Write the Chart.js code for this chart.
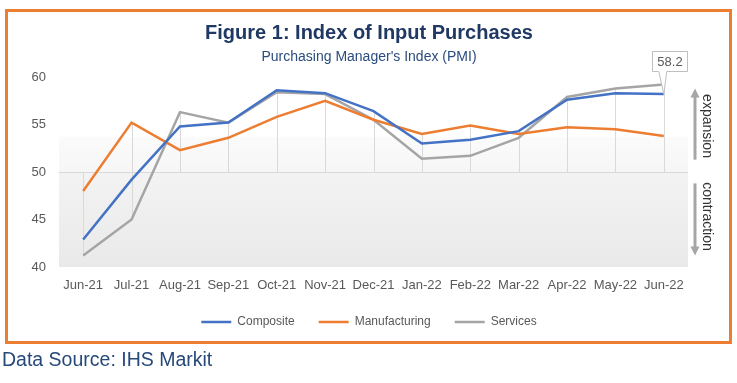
<!DOCTYPE html>
<html>
<head>
<meta charset="utf-8">
<script src="https://cdn.jsdelivr.net/npm/chart.js@4.4.1/dist/chart.umd.min.js"></script>
<style>
html,body{margin:0;padding:0;background:#fff;width:737px;height:383px;overflow:hidden;}
#frame{position:absolute;left:5px;top:9px;width:721px;height:329px;border:3px solid #ed7d31;}
#wrap{position:absolute;left:0;top:0;width:737px;height:383px;}
#src{position:absolute;left:2px;top:348px;font-family:"Liberation Sans",Arial,sans-serif;font-size:19.5px;line-height:22px;color:#27497a;white-space:nowrap;}
</style>
</head>
<body>
<div id="frame"></div>
<div id="wrap"><canvas id="c" width="737" height="383"></canvas></div>
<div id="src">Data Source: IHS Markit</div>
<script>
// ---- data ----
const categories = ['Jun-21','Jul-21','Aug-21','Sep-21','Oct-21','Nov-21','Dec-21','Jan-22','Feb-22','Mar-22','Apr-22','May-22','Jun-22'];
const composite     = [42.9, 49.2, 54.8, 55.2, 58.6, 58.3, 56.4, 53.0, 53.4, 54.3, 57.6, 58.3, 58.2];
const manufacturing = [48.0, 55.2, 52.3, 53.6, 55.8, 57.5, 55.5, 54.0, 54.9, 54.0, 54.7, 54.5, 53.8];
const services      = [41.2, 45.0, 56.3, 55.2, 58.4, 58.2, 55.5, 51.4, 51.7, 53.6, 57.9, 58.8, 59.2];
const threshold = 50;
const yMin = 40, yMax = 60, yStep = 5;
const titleText = 'Figure 1: Index of Input Purchases';
const subtitleText = "Purchasing Manager's Index (PMI)";
const seriesNames = ['Composite','Manufacturing','Services'];
const calloutLabel = composite[composite.length - 1].toFixed(1);
const expansionRange = [51.3, 58.8];
const contractionRange = [48.8, 41.2];
const shadeTop = 53.7;

const FONT = '"Liberation Sans", Arial, sans-serif';
const colors = ['#4472c4', '#ed7d31', '#a5a5a5'];
const seriesData = [composite, manufacturing, services];

const bgPlugin = {
  id: 'bg',
  beforeDraw(chart) {
    const {ctx, chartArea: a, scales: {y}} = chart;
    const top = y.getPixelForValue(shadeTop);
    const mid = y.getPixelForValue(threshold);
    const bot = y.getPixelForValue(yMin);
    const g = ctx.createLinearGradient(0, top, 0, bot);
    const f = (mid - top) / (bot - top);
    g.addColorStop(0, '#fbfbfb');
    g.addColorStop(f, '#f6f6f6');
    g.addColorStop(Math.min(1, f + 0.001), '#f3f3f3');
    g.addColorStop(1, '#e9e9e9');
    ctx.save();
    ctx.fillStyle = g;
    ctx.fillRect(a.left, top, a.right - a.left, bot - top);
    ctx.restore();
  }
};

const hiloPlugin = {
  id: 'hilo',
  beforeDatasetsDraw(chart) {
    const {ctx, scales: {x, y}} = chart;
    ctx.save();
    ctx.strokeStyle = '#d9d9d9';
    ctx.lineWidth = 1;
    categories.forEach((c, i) => {
      const vals = [composite[i], manufacturing[i], services[i], threshold];
      const px = Math.round(x.getPixelForValue(i)) + 0.5;
      ctx.beginPath();
      ctx.moveTo(px, y.getPixelForValue(Math.max(...vals)));
      ctx.lineTo(px, y.getPixelForValue(Math.min(...vals)));
      ctx.stroke();
    });
    ctx.restore();
  }
};

function arrow(ctx, x, y0, y1) {
  const dir = y1 < y0 ? -1 : 1;
  ctx.beginPath();
  ctx.moveTo(x, y0);
  ctx.lineTo(x, y1 - dir * 7);
  ctx.stroke();
  ctx.beginPath();
  ctx.moveTo(x, y1);
  ctx.lineTo(x - 4.5, y1 - dir * 9);
  ctx.lineTo(x + 4.5, y1 - dir * 9);
  ctx.closePath();
  ctx.fill();
}

const annotPlugin = {
  id: 'annot',
  afterDraw(chart) {
    const {ctx, chartArea: a, scales: {y}} = chart;
    ctx.save();
    // callout
    const meta = chart.getDatasetMeta(0);
    const pt = meta.data[meta.data.length - 1];
    const px = pt.x, py = pt.y;
    const bl = Math.round(px - 12) + 0.5, bt = Math.round(py - 43) + 0.5, bw = 35, bh = 20;
    ctx.beginPath();
    ctx.moveTo(bl, bt);
    ctx.lineTo(bl + bw, bt);
    ctx.lineTo(bl + bw, bt + bh);
    ctx.lineTo(px + 3, bt + bh);
    ctx.lineTo(px, py);
    ctx.lineTo(px - 5, bt + bh);
    ctx.lineTo(bl, bt + bh);
    ctx.closePath();
    ctx.fillStyle = '#ffffff';
    ctx.fill();
    ctx.strokeStyle = '#bfbfbf';
    ctx.lineWidth = 1;
    ctx.stroke();
    ctx.fillStyle = '#595959';
    ctx.font = '13px ' + FONT;
    ctx.textAlign = 'center';
    ctx.textBaseline = 'middle';
    ctx.fillText(calloutLabel, bl + bw / 2, bt + bh / 2 + 0.5);

    // arrows
    const ax = a.right + 7;
    ctx.strokeStyle = '#a6a6a6';
    ctx.fillStyle = '#a6a6a6';
    ctx.lineWidth = 3;
    const e0 = y.getPixelForValue(expansionRange[0]), e1 = y.getPixelForValue(expansionRange[1]);
    const c0 = y.getPixelForValue(contractionRange[0]), c1 = y.getPixelForValue(contractionRange[1]);
    arrow(ctx, ax, e0, e1);
    arrow(ctx, ax, c0, c1);

    // rotated labels
    ctx.fillStyle = '#333333';
    ctx.font = '14px ' + FONT;
    ctx.textAlign = 'center';
    ctx.textBaseline = 'middle';
    [['expansion', (e0 + e1) / 2 + 2], ['contraction', (c0 + c1) / 2 - 3]].forEach(([t, cy]) => {
      ctx.save();
      ctx.translate(ax + 12, cy);
      ctx.rotate(Math.PI / 2);
      ctx.fillText(t, 0, 0);
      ctx.restore();
    });
    ctx.restore();
  }
};

new Chart(document.getElementById('c').getContext('2d'), {
  type: 'line',
  data: {
    labels: categories,
    datasets: seriesNames.map((n, i) => ({
      label: n,
      data: seriesData[i],
      borderColor: colors[i],
      backgroundColor: colors[i],
      borderWidth: 2.5,
      pointRadius: 0,
      pointHoverRadius: 0,
      tension: 0,
      fill: false
    }))
  },
  options: {
    responsive: false,
    animation: false,
    events: [],
    layout: {padding: {left: 31, right: 30, top: 0, bottom: 45}},
    plugins: {
      title: {display: true, text: titleText, color: '#1f3864',
        font: {family: FONT, size: 20, weight: 'bold', lineHeight: 1.2}, padding: {top: 21, bottom: 0}},
      subtitle: {display: true, text: subtitleText, color: '#2b4c7e',
        font: {family: FONT, size: 14, lineHeight: 1.2}, padding: {top: 3.6, bottom: 11.6}},
      legend: {position: 'bottom',
        labels: {usePointStyle: true, pointStyle: 'line', pointStyleWidth: 30, boxHeight: 12, padding: 24,
          color: '#595959', font: {family: FONT, size: 12}}},
      tooltip: {enabled: false}
    },
    scales: {
      x: {
        offset: true,
        grid: {display: false, drawTicks: false},
        border: {display: false},
        ticks: {padding: 10.8, color: '#595959', font: {family: FONT, size: 13}, maxRotation: 0, autoSkip: false},
        afterFit(s) { s.height = 25; }
      },
      y: {
        min: yMin, max: yMax,
        ticks: {stepSize: yStep, padding: 13, color: '#595959', font: {family: FONT, size: 13}},
        grid: {drawTicks: false, lineWidth: 1,
          color: c => (c.tick && c.tick.value === threshold) ? '#d9d9d9' : 'rgba(0,0,0,0)'},
        border: {display: false},
        afterFit(s) { s.width = 28; }
      },
      yRight: {
        position: 'right',
        min: yMin, max: yMax,
        grid: {display: false, drawTicks: false},
        border: {display: false},
        ticks: {display: false},
        afterFit(s) { s.width = 19; }
      }
    }
  },
  plugins: [bgPlugin, hiloPlugin, annotPlugin]
});
</script>
</body>
</html>
